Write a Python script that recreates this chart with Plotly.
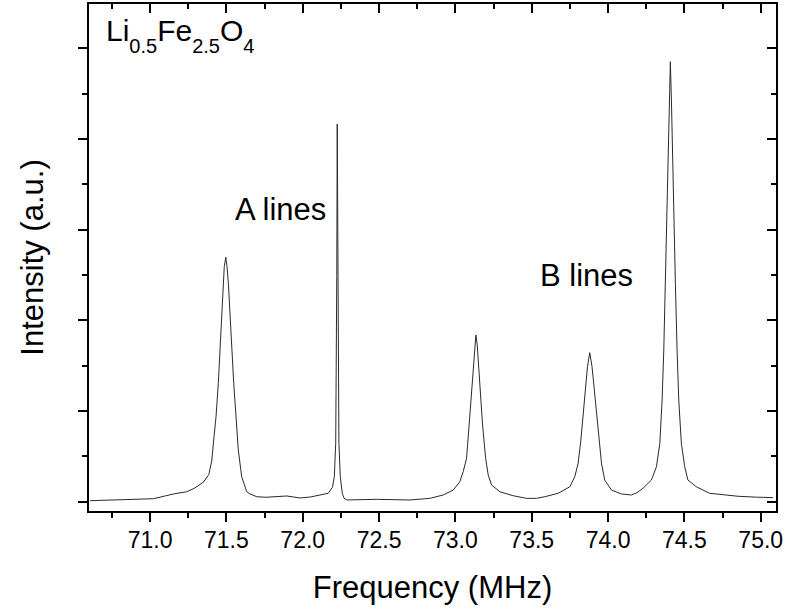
import plotly.graph_objects as go

# Spectrum (frequency in MHz, intensity in a.u.)
freq_mhz = [
    70.607, 70.700, 70.847, 71.022, 71.153, 71.196, 71.240, 71.290, 71.349, 71.385,
    71.404, 71.419, 71.432, 71.447, 71.458, 71.469, 71.480, 71.486, 71.496, 71.504,
    71.513, 71.524, 71.535, 71.548, 71.563, 71.578, 71.600, 71.633, 71.655, 71.699,
    71.760, 71.829, 71.895, 71.982, 72.050, 72.113, 72.150, 72.167, 72.195, 72.207,
    72.216, 72.220, 72.223, 72.226, 72.231, 72.233, 72.237, 72.246, 72.259, 72.270,
    72.288, 72.484, 72.702, 72.833, 72.920, 72.986, 73.029, 73.051, 73.073, 73.090,
    73.106, 73.117, 73.126, 73.134, 73.143, 73.152, 73.162, 73.178, 73.198, 73.215,
    73.237, 73.291, 73.378, 73.466, 73.531, 73.586, 73.673, 73.750, 73.782, 73.804,
    73.822, 73.837, 73.852, 73.865, 73.880, 73.895, 73.908, 73.924, 73.939, 73.957,
    73.978, 74.022, 74.088, 74.153, 74.190, 74.229, 74.284, 74.317, 74.339, 74.354,
    74.365, 74.376, 74.386, 74.395, 74.402, 74.408, 74.415, 74.421, 74.430, 74.441,
    74.452, 74.463, 74.480, 74.502, 74.523, 74.578, 74.665, 74.752, 74.850, 74.971,
    75.080,
]
intensity = [
    0.011, 0.015, 0.019, 0.033, 0.085, 0.099, 0.110, 0.148, 0.215, 0.300,
    0.450, 0.717, 0.937, 1.305, 1.673, 2.040, 2.408, 2.591, 2.695, 2.591,
    2.408, 2.040, 1.673, 1.305, 0.937, 0.570, 0.276, 0.110, 0.085, 0.055,
    0.049, 0.055, 0.063, 0.041, 0.052, 0.074, 0.085, 0.093, 0.160, 0.276,
    0.644, 1.378, 2.481, 4.164, 2.481, 1.378, 0.644, 0.276, 0.093, 0.040,
    0.019, 0.026, 0.019, 0.037, 0.074, 0.129, 0.221, 0.331, 0.478, 0.846,
    1.213, 1.507, 1.727, 1.838, 1.727, 1.507, 1.213, 0.846, 0.478, 0.294,
    0.184, 0.110, 0.066, 0.037, 0.037, 0.055, 0.093, 0.165, 0.276, 0.423,
    0.680, 0.975, 1.268, 1.488, 1.643, 1.488, 1.268, 0.975, 0.680, 0.423,
    0.239, 0.129, 0.085, 0.074, 0.100, 0.148, 0.239, 0.386, 0.644, 1.121,
    1.673, 2.408, 3.142, 3.878, 4.429, 4.851, 4.429, 3.878, 3.142, 2.408,
    1.673, 1.121, 0.644, 0.386, 0.239, 0.165, 0.093, 0.074, 0.060, 0.050,
    0.045,
]

x_ticks = [71.0, 71.5, 72.0, 72.5, 73.0, 73.5, 74.0, 74.5, 75.0]
x_tick_labels = ["71.0", "71.5", "72.0", "72.5", "73.0", "73.5", "74.0", "74.5", "75.0"]
y_ticks = [0, 1, 2, 3, 4, 5]

x_range = [70.60, 75.10]
y_range = [-0.1025, 5.487]

FONT = "Liberation Sans, Arial, sans-serif"

fig = go.Figure()
fig.add_trace(go.Scatter(
    x=freq_mhz, y=intensity, mode="lines",
    line=dict(color="#2a2a2a", width=1),
    showlegend=False, hoverinfo="skip",
))
# dummy trace to attach mirror axes
fig.add_trace(go.Scatter(x=[None], y=[None], xaxis="x2", yaxis="y2",
                         showlegend=False, hoverinfo="skip"))

common_x = dict(range=x_range, tickvals=x_ticks, showgrid=False, zeroline=False,
                showline=True, linecolor="black", linewidth=2,
                tickcolor="black", tickwidth=1.5, ticklen=9,
                minor=dict(dtick=0.25, tick0=70.75, ticks="", ticklen=5,
                           tickwidth=1.5, tickcolor="black", showgrid=False))
common_y = dict(range=y_range, tickvals=y_ticks, showgrid=False, zeroline=False,
                showline=True, linecolor="black", linewidth=2,
                tickcolor="black", tickwidth=1.5, ticklen=9,
                minor=dict(dtick=0.5, tick0=0.5, ticks="", ticklen=5,
                           tickwidth=1.5, tickcolor="black", showgrid=False))

xa = dict(common_x)
xa.update(ticks="outside", ticktext=x_tick_labels, showticklabels=True,
          ticklabelstandoff=-2,
          tickfont=dict(family=FONT, size=23, color="black"),
          title=dict(text="Frequency (MHz)", font=dict(family=FONT, size=31, color="black"),
                     standoff=25))
xa["minor"] = dict(xa["minor"], ticks="outside")

xa2 = dict(common_x)
xa2.update(ticks="inside", showticklabels=False, overlaying="x", side="top")
xa2["minor"] = dict(xa2["minor"], ticks="inside")

ya = dict(common_y)
ya.update(ticks="outside", showticklabels=False,
          title=dict(text="Intensity (a.u.)", font=dict(family=FONT, size=31, color="black"),
                     standoff=25))
ya["minor"] = dict(ya["minor"], ticks="outside")

ya2 = dict(common_y)
ya2.update(ticks="inside", showticklabels=False, overlaying="y", side="right")
ya2["minor"] = dict(ya2["minor"], ticks="inside")


def low_sub(s):
    return ('<span style="font-size:57px"><sub><span style="font-size:20px">'
            + s + '</span></sub></span>')


formula = "Li" + low_sub("0.5") + "Fe" + low_sub("2.5") + "O" + low_sub("4")

fig.update_layout(
    width=787, height=610,
    margin=dict(l=89, r=10.5, t=4, b=99, autoexpand=False),
    paper_bgcolor="white", plot_bgcolor="white",
    font=dict(family=FONT, color="black"),
    xaxis=xa, xaxis2=xa2, yaxis=ya, yaxis2=ya2,
    annotations=[
        dict(text=formula, xref="paper", yref="paper",
             x=0.0218, y=0.985, xanchor="left", yanchor="top", showarrow=False,
             font=dict(family=FONT, size=30, color="black")),
        dict(text="A lines", xref="paper", yref="paper", x=0.279, y=0.595,
             xanchor="center", yanchor="middle", showarrow=False,
             font=dict(family=FONT, size=31, color="black")),
        dict(text="B lines", xref="paper", yref="paper", x=0.7236, y=0.4637,
             xanchor="center", yanchor="middle", showarrow=False,
             font=dict(family=FONT, size=31, color="black")),
    ],
)

fig.write_html("out.html", config={"displayModeBar": False},
               post_script="document.body.style.margin='0';document.body.style.overflow='hidden';")
